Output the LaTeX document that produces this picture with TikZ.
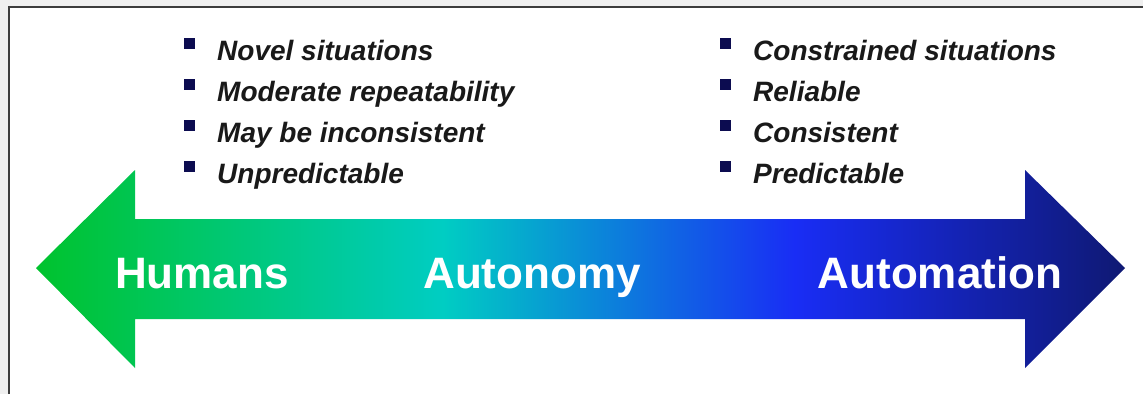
\documentclass[tikz,border=0pt]{standalone}
\usepackage{fontspec}
\setmainfont{Liberation Sans}
\definecolor{bgray}{RGB}{239,239,239}
\definecolor{framec}{RGB}{60,60,60}
\definecolor{txt}{RGB}{25,25,25}
\definecolor{bul}{RGB}{12,12,80}
\definecolor{cA}{RGB}{0,195,45}
\definecolor{cB}{RGB}{0,205,195}
\definecolor{cC}{RGB}{25,45,245}
\definecolor{cD}{RGB}{15,25,115}
\pgfdeclarehorizontalshading{arrowgrad}{100bp}{color(0bp)=(cA); color(25bp)=(cA); color(43.7bp)=(cB); color(59.85bp)=(cC); color(75bp)=(cD); color(100bp)=(cD)}
\tikzset{
  item/.style={anchor=base west, inner sep=0pt, text=txt, font=\fontsize{28}{34}\selectfont\bfseries\itshape},
  bsq/.style={fill=bul, draw=none, minimum size=11pt, inner sep=0pt, anchor=center},
  lab/.style={anchor=base, inner sep=0pt, text=white, font=\fontsize{44}{52}\selectfont\bfseries}
}
\begin{document}
\begin{tikzpicture}[x=1pt,y=-1pt]
\useasboundingbox (0,0) rectangle (1143,394);
\fill[bgray] (0,0) rectangle (1143,394);
\fill[white] (9,7) rectangle (1143,394);
\draw[framec, line width=1.5pt] (9,394) -- (9,7) -- (1143,7);
% arrow
\shade[shading=arrowgrad] (36,268) -- (135,170) -- (135,219) -- (1025,219) -- (1025,170) -- (1125,268) -- (1025,368) -- (1025,319) -- (135,319) -- (135,368) -- cycle;
% left column
\node[bsq] (b1) at (189.5,43) {};
\node[bsq] (b2) at (189.5,84) {};
\node[bsq] (b3) at (189.5,125) {};
\node[bsq] (b4) at (189.5,166) {};
\node[item] (t1) at (217,60) {Novel situations};
\node[item] (t2) at (217,101) {Moderate repeatability};
\node[item] (t3) at (217,142) {May be inconsistent};
\node[item] (t4) at (217,183) {Unpredictable};
% right column
\node[bsq] (c1) at (725,43) {};
\node[bsq] (c2) at (725,84) {};
\node[bsq] (c3) at (725,125) {};
\node[bsq] (c4) at (725,166) {};
\node[item] (s1) at (753,60) {Constrained situations};
\node[item] (s2) at (753,101) {Reliable};
\node[item] (s3) at (753,142) {Consistent};
\node[item] (s4) at (753,183) {Predictable};
% labels
\node[lab] (hum) at (202,288) {Humans};
\node[lab] (aut) at (532,288) {Autonomy};
\node[lab] (atm) at (940,288) {Automation};
\end{tikzpicture}
\end{document}
